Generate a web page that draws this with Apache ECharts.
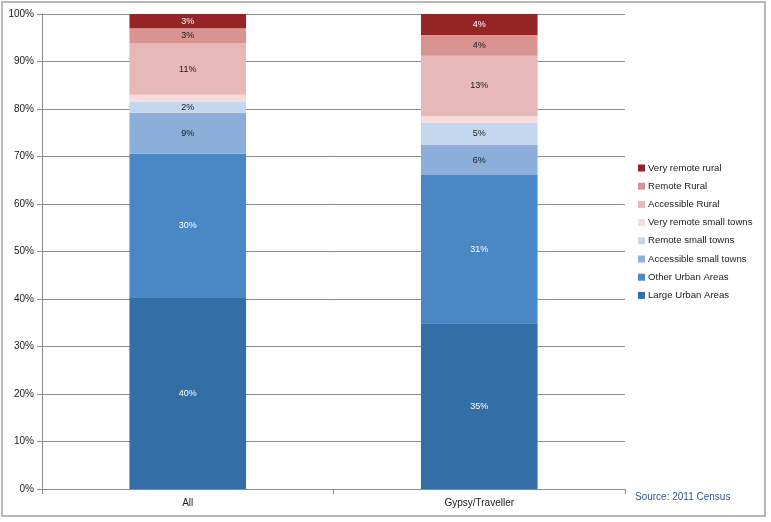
<!DOCTYPE html>
<html><head><meta charset="utf-8">
<script src="https://cdn.jsdelivr.net/npm/echarts@6/dist/echarts.min.js"></script>
<style>
html,body{margin:0;padding:0;background:#fff;}
#frame{position:absolute;left:1px;top:1px;width:765px;height:516px;border:2px solid #b8b8b8;box-sizing:border-box;}
#c{position:absolute;left:0;top:0;width:771px;height:522px;}
</style></head>
<body>
<div id="frame"></div>
<div id="c"></div>
<script>
const categories = ['All', 'Gypsy/Traveller'];
const seriesNames = ['Large Urban Areas','Other Urban Areas','Accessible small towns','Remote small towns','Very remote small towns','Accessible Rural','Remote Rural','Very remote rural'];
const largeUrban = [40.2, 34.9];
const otherUrban = [30.4, 31.2];
const accessibleSmallTowns = [8.6, 6.3];
const remoteSmallTowns = [2.4, 4.7];
const veryRemoteSmallTowns = [1.4, 1.4];
const accessibleRural = [10.8, 12.7];
const remoteRural = [3.2, 4.4];
const veryRemoteRural = [3.0, 4.4];
const yTickLabels = ['0%','10%','20%','30%','40%','50%','60%','70%','80%','90%','100%'];

const values = [largeUrban, otherUrban, accessibleSmallTowns, remoteSmallTowns, veryRemoteSmallTowns, accessibleRural, remoteRural, veryRemoteRural];
const colors = ['#336ea6','#4a87c5','#8caedb','#c3d8ee','#f6dcdc','#e6b8b7','#d99391','#952525'];
const labelColors = ['#ffffff','#ffffff','#1a1a1a','#1a1a1a',null,'#1a1a1a','#1a1a1a','#ffffff'];
const FONT = 'Liberation Sans';

const chart = echarts.init(document.getElementById('c'));
const series = seriesNames.map((name, i) => ({
  name: name,
  type: 'bar',
  stack: 'total',
  barWidth: '40%',
  data: values[i],
  itemStyle: { color: colors[i] },
  label: {
    show: labelColors[i] !== null,
    position: 'inside',
    color: labelColors[i] || '#000',
    fontFamily: FONT,
    fontSize: 9,
    formatter: p => Math.round(p.value) + '%'
  }
}));

chart.setOption({
  animation: false,
  textStyle: { fontFamily: FONT },
  grid: { left: 42, right: 146, top: 14, bottom: 33, containLabel: false },
  legend: {
    orient: 'vertical',
    left: 633,
    top: 157,
    itemWidth: 7,
    itemHeight: 7,
    itemGap: 6.2,
    icon: 'rect',
    data: seriesNames.slice().reverse(),
    textStyle: { fontFamily: FONT, fontSize: 9.6, color: '#1a1a1a', lineHeight: 12, padding: [0,0,0,-2] }
  },
  xAxis: {
    type: 'category',
    data: categories,
    axisLine: { lineStyle: { color: '#8c8c8c', width: 1 } },
    axisTick: { show: true, length: 5, lineStyle: { color: '#8c8c8c' } },
    axisLabel: { color: '#1a1a1a', fontSize: 10, fontFamily: FONT, margin: 9 }
  },
  yAxis: {
    type: 'value',
    min: 0, max: 100, interval: 10,
    axisLine: { show: true, lineStyle: { color: '#8c8c8c', width: 1 } },
    axisTick: { show: true, length: 5, lineStyle: { color: '#8c8c8c' } },
    splitLine: { lineStyle: { color: '#8c8c8c', width: 1 } },
    axisLabel: { color: '#1a1a1a', fontSize: 10, fontFamily: FONT, margin: 8,
      formatter: v => yTickLabels[Math.round(v / 10)] }
  },
  graphic: [{
    type: 'text', left: 635, top: 492,
    style: { text: 'Source: 2011 Census', fill: '#2e5a8a', font: '10px "Liberation Sans"' }
  }],
  series: series
});
</script>
</body></html>
